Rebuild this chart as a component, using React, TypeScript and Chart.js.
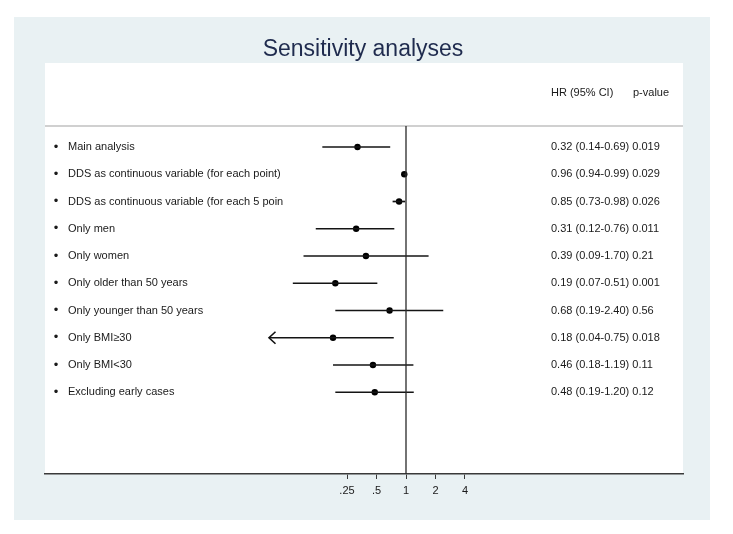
import React, { useEffect, useRef } from "react";
import { Chart, registerables } from "chart.js";

Chart.register(...registerables);

const titleText = "Sensitivity analyses";
const categories = [
  "Main analysis",
  "DDS as continuous variable (for each point)",
  "DDS as continuous variable (for each 5 poin",
  "Only men",
  "Only women",
  "Only older than 50 years",
  "Only younger than 50 years",
  "Only BMI\u226530",
  "Only BMI<30",
  "Excluding early cases",
];
const hrValues = [0.32, 0.96, 0.85, 0.31, 0.39, 0.19, 0.68, 0.18, 0.46, 0.48];
const ciLow = [0.14, 0.94, 0.73, 0.12, 0.09, 0.07, 0.19, 0.04, 0.18, 0.19];
const ciHigh = [0.69, 0.99, 0.98, 0.76, 1.7, 0.51, 2.4, 0.75, 1.19, 1.2];
const pValues = ["0.019", "0.029", "0.026", "0.011", "0.21", "0.001", "0.56", "0.018", "0.11", "0.12"];
const arrowLeft = [false, false, false, false, false, false, false, true, false, false];
const tickValues = [0.25, 0.5, 1, 2, 4];
const tickLabels = [".25", ".5", "1", "2", "4"];
const headerHR = "HR (95% CI)";
const headerP = "p-value";

const FONT = "'Liberation Sans', Arial, Helvetica, sans-serif";
const TEXT = "#1a1a1a";

// layout constants
const W = 733;
const H = 534;
const PX_PER_DOUBLING = 29.5;
const REF_X = 406;
const AREA_L = 45;
const AREA_R = 683;
const AREA_T = 63;
const AREA_B = 474;
const Y_MIN = -3.083;
const Y_MAX = 12;
const HEADER_Y = -1.98;
const HEADER_LINE_Y = -0.77;

const xMin = Math.pow(2, (AREA_L - REF_X) / PX_PER_DOUBLING);
const xMax = Math.pow(2, (AREA_R - REF_X) / PX_PER_DOUBLING);

const decorPlugin = {
  id: "decor",
  beforeDraw(chart: any) {
    const ctx = chart.ctx;
    const { left, right, top, bottom } = chart.chartArea;
    ctx.save();
    ctx.fillStyle = "#ffffff";
    ctx.fillRect(0, 0, W, H);
    ctx.fillStyle = "#e9f1f3";
    ctx.fillRect(14, 17, 696, 503);
    ctx.fillStyle = "#ffffff";
    ctx.fillRect(left, top, right - left, bottom - top);
    ctx.fillStyle = "#1f2b4e";
    ctx.font = `23px ${FONT}`;
    ctx.textAlign = "center";
    ctx.textBaseline = "alphabetic";
    ctx.fillText(titleText, 363, 56);
    // header line
    const ys = chart.scales.y;
    const hy = ys.getPixelForValue(HEADER_LINE_Y);
    ctx.strokeStyle = "#d0d0d0";
    ctx.lineWidth = 2;
    ctx.beginPath();
    ctx.moveTo(left, hy);
    ctx.lineTo(right, hy);
    ctx.stroke();
    ctx.restore();
  },
  afterDatasetsDraw(chart: any) {
    const ctx = chart.ctx;
    const ys = chart.scales.y;
    const xs = chart.scales.x;
    ctx.save();
    ctx.fillStyle = TEXT;
    ctx.textBaseline = "middle";
    ctx.textAlign = "left";
    ctx.font = `11px ${FONT}`;
    const hy = ys.getPixelForValue(HEADER_Y);
    ctx.fillText(headerHR, 551, hy);
    ctx.fillText(headerP, 633, hy);
    categories.forEach((c, i) => {
      const y = ys.getPixelForValue(i);
      ctx.textAlign = "center";
      ctx.font = `13px ${FONT}`;
      ctx.fillText("\u2022", 56, y);
      ctx.font = `11px ${FONT}`;
      ctx.textAlign = "left";
      ctx.fillText(c, 68, y);
      const s = `${hrValues[i].toFixed(2)} (${ciLow[i].toFixed(2)}-${ciHigh[i].toFixed(2)}) ${pValues[i]}`;
      ctx.fillText(s, 551, y);
      if (arrowLeft[i]) {
        const tx = xs.getPixelForValue(ciLow[i]);
        ctx.strokeStyle = "#111";
        ctx.lineWidth = 1.6;
        ctx.beginPath();
        ctx.moveTo(tx + 6.5, y - 6);
        ctx.lineTo(tx, y);
        ctx.lineTo(tx + 6.5, y + 6);
        ctx.stroke();
      }
    });
    ctx.restore();
  },
};

export default function App() {
  const ref = useRef<HTMLCanvasElement | null>(null);
  useEffect(() => {
    if (!ref.current) return;
    const datasets: any[] = [];
    datasets.push({
      type: "scatter",
      data: [
        { x: 1, y: HEADER_LINE_Y },
        { x: 1, y: Y_MAX },
      ],
      showLine: true,
      borderColor: "#2a2a2a",
      borderWidth: 1.3,
      pointRadius: 0,
    });
    categories.forEach((_, i) => {
      datasets.push({
        type: "scatter",
        data: [
          { x: ciLow[i], y: i },
          { x: ciHigh[i], y: i },
        ],
        showLine: true,
        borderColor: "#141414",
        borderWidth: 1.7,
        pointRadius: 0,
      });
    });
    datasets.push({
      type: "scatter",
      data: hrValues.map((v, i) => ({ x: v, y: i })),
      pointRadius: 3.2,
      pointBackgroundColor: "#000",
      pointBorderColor: "#000",
      pointBorderWidth: 0,
    });
    const chart = new Chart(ref.current, {
      type: "scatter",
      data: { datasets },
      plugins: [decorPlugin],
      options: {
        responsive: false,
        animation: false,
        events: [],
        layout: { padding: { left: AREA_L, right: W - AREA_R, top: AREA_T, bottom: H - AREA_B - 26 } },
        plugins: { legend: { display: false }, tooltip: { enabled: false }, title: { display: false } },
        scales: {
          x: {
            type: "logarithmic",
            min: xMin,
            max: xMax,
            afterBuildTicks: (scale: any) => {
              scale.ticks = tickValues.map((v) => ({ value: v }));
            },
            afterFit: (scale: any) => {
              scale.height = 26;
            },
            ticks: {
              autoSkip: false,
              maxRotation: 0,
              padding: 5,
              color: TEXT,
              font: { family: FONT, size: 11 },
              callback: (_v: any, idx: number) => tickLabels[idx],
            },
            grid: { drawOnChartArea: false, drawTicks: true, tickLength: 5, color: "#3a3a3a", lineWidth: 1 },
            border: { display: true, color: "#3a3a3a", width: 1.6 },
          },
          y: {
            type: "linear",
            display: false,
            min: Y_MIN,
            max: Y_MAX,
            reverse: true,
          },
        },
      } as any,
    });
    return () => chart.destroy();
  }, []);
  return (
    <div style={{ position: "fixed", left: 0, top: 0, width: W, height: H, background: "#fff" }}>
      <canvas ref={ref} width={W} height={H} style={{ display: "block" }} />
    </div>
  );
}
